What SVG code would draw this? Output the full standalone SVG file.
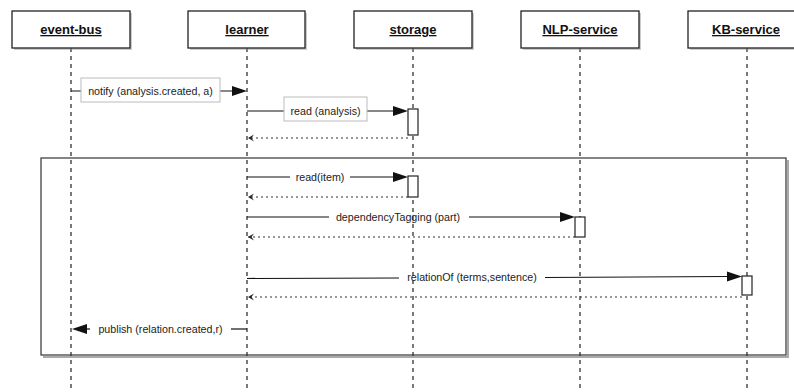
<svg xmlns="http://www.w3.org/2000/svg" width="794" height="392" viewBox="0 0 794 392">
<defs>
<style>
.hdr{fill:#fff;stroke:#222;stroke-width:1.3}
.shd{fill:#999;opacity:0.5}
.ht{font-family:"Liberation Sans",Arial,sans-serif;font-size:13px;font-weight:bold;text-anchor:middle;text-decoration:underline;fill:#111}
.life{stroke:#222;stroke-width:1.2;stroke-dasharray:4,4;fill:none}
.msg{stroke:#111;stroke-width:1.2;fill:none}
.ret{stroke:#333;stroke-width:1.2;stroke-dasharray:2,3;fill:none}
.lbl{font-family:"Liberation Sans",Arial,sans-serif;font-size:10.7px;text-anchor:middle;fill:#222}
.lbox{fill:#fff;stroke:#bbb;stroke-width:1}
.act{fill:#fff;stroke:#222;stroke-width:1.2}
.head{fill:#111}
</style>
<marker id="open" markerWidth="10" markerHeight="10" refX="6" refY="3.5" orient="auto" markerUnits="userSpaceOnUse">
<path d="M0,0 L6,3.5 L0,7 L2.5,3.5 Z" fill="#222"/>
</marker>
</defs>

<g id="lifelines">
<line class="life" x1="71" y1="48" x2="71" y2="392"/>
<line class="life" x1="247" y1="48" x2="247" y2="392"/>
<line class="life" x1="413" y1="48" x2="413" y2="392"/>
<line class="life" x1="580" y1="48" x2="580" y2="392"/>
<line class="life" x1="747" y1="48" x2="747" y2="392"/>
</g>

<g id="event-bus">
<rect class="shd" x="14" y="13" width="118" height="37"/>
<rect class="hdr" x="12" y="11" width="118" height="37"/>
<text class="ht" x="71" y="34">event-bus</text>
</g>
<g id="learner">
<rect class="shd" x="190" y="13" width="117" height="37"/>
<rect class="hdr" x="188" y="11" width="117" height="37"/>
<text class="ht" x="247" y="34">learner</text>
</g>
<g id="storage">
<rect class="shd" x="356" y="13" width="118" height="37"/>
<rect class="hdr" x="354" y="11" width="118" height="37"/>
<text class="ht" x="413" y="34">storage</text>
</g>
<g id="NLP-service">
<rect class="shd" x="523" y="13" width="118" height="37"/>
<rect class="hdr" x="521" y="11" width="118" height="37"/>
<text class="ht" x="580" y="34">NLP-service</text>
</g>
<g id="KB-service">
<rect class="shd" x="690" y="13" width="118" height="37"/>
<rect class="hdr" x="688" y="11" width="118" height="37"/>
<text class="ht" x="746" y="34">KB-service</text>
</g>

<g id="loop-frame">
<polyline points="43,357 788,357 788,160" fill="none" stroke="#aaa" stroke-width="2"/>
<rect x="41" y="158" width="745" height="197" fill="none" stroke="#333" stroke-width="1.2"/>
</g>

<g id="activations">
<rect class="act" x="408" y="109" width="10" height="26"/>
<rect class="act" x="408" y="176" width="10" height="21"/>
<rect class="act" x="575" y="217" width="10" height="20"/>
<rect class="act" x="742" y="276" width="10" height="19"/>
</g>

<g id="connectors">
<!-- notify -->
<line class="msg" x1="71" y1="91" x2="233" y2="91"/>
<path class="head" d="M247,91 L232,86 L232,96 Z"/>
<rect class="lbox" x="81" y="78" width="139" height="24"/>
<text class="lbl" x="150.5" y="95">notify (analysis.created, a)</text>

<!-- read (analysis) -->
<line class="msg" x1="247" y1="111" x2="394" y2="111"/>
<path class="head" d="M408,111 L393,106 L393,116 Z"/>
<rect class="lbox" x="284" y="97" width="83" height="24"/>
<text class="lbl" x="325.5" y="115">read (analysis)</text>
<line class="ret" x1="408" y1="138" x2="248" y2="138" marker-end="url(#open)"/>

<!-- read(item) -->
<line class="msg" x1="247" y1="177" x2="290" y2="177"/>
<line class="msg" x1="350" y1="177" x2="394" y2="177"/>
<path class="head" d="M408,177 L393,172 L393,182 Z"/>
<text class="lbl" x="320" y="181">read(item)</text>
<line class="ret" x1="408" y1="197" x2="248" y2="197" marker-end="url(#open)"/>

<!-- dependencyTagging -->
<line class="msg" x1="247" y1="217" x2="329" y2="217"/>
<line class="msg" x1="469" y1="217" x2="561" y2="217"/>
<path class="head" d="M575,217 L560,212 L560,222 Z"/>
<text class="lbl" x="398" y="221">dependencyTagging (part)</text>
<line class="ret" x1="575" y1="237" x2="248" y2="237" marker-end="url(#open)"/>

<!-- relationOf -->
<line class="msg" x1="247" y1="278.5" x2="399" y2="278"/>
<line class="msg" x1="545" y1="277.5" x2="728" y2="276.5"/>
<path class="head" d="M742,276.5 L727,271.5 L727,281.5 Z"/>
<text class="lbl" x="472" y="281">relationOf (terms,sentence)</text>
<line class="ret" x1="742" y1="297" x2="248" y2="297" marker-end="url(#open)"/>

<!-- publish -->
<line class="msg" x1="247" y1="329" x2="231" y2="329"/>
<line class="msg" x1="90" y1="329" x2="80" y2="329"/>
<path class="head" d="M72,329 L87,324 L87,334 Z"/>
<text class="lbl" x="160.5" y="333">publish (relation.created,r)</text>
</g>
</svg>
